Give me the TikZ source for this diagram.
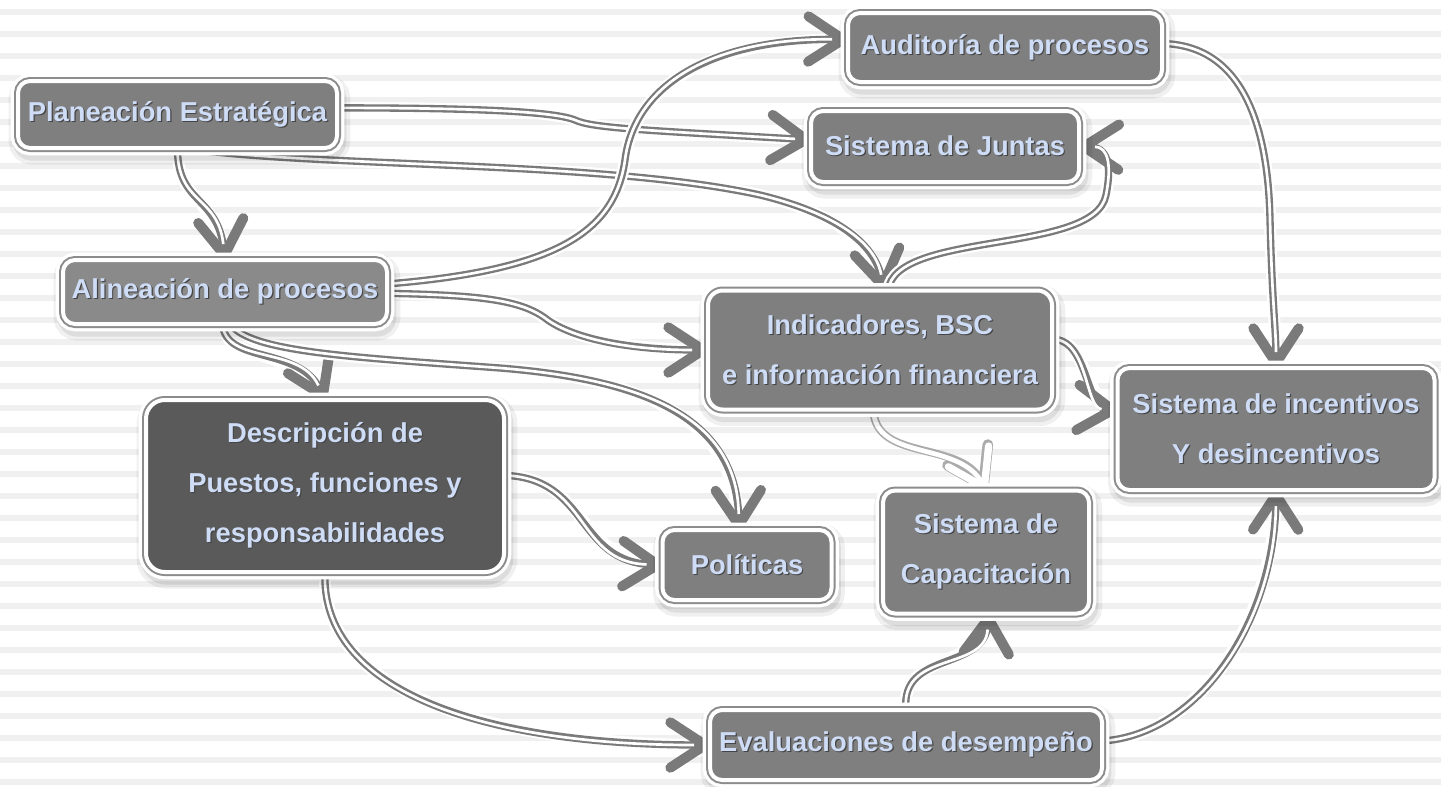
\documentclass[tikz,border=0pt]{standalone}
\usepackage{fontspec}
\setmainfont{Liberation Sans}
\usetikzlibrary{arrows.meta,calc}
\definecolor{boxg}{HTML}{7F7F7F}
\definecolor{boxl}{HTML}{8A8A8A}
\definecolor{boxd}{HTML}{5A5A5A}
\definecolor{ringg}{HTML}{8C8C8C}
\definecolor{txt}{HTML}{CEDCF6}
\definecolor{tsh}{HTML}{454545}
\definecolor{lineg}{HTML}{7A7A7A}
\definecolor{linel}{HTML}{ABABAB}
\definecolor{stripe}{HTML}{F0F0F0}
\newcommand\shtx[1]{\leavevmode\rlap{\kern0.9pt\raisebox{-0.9pt}{\textcolor{tsh}{#1}}}#1}
\pgfdeclarelayer{bg}
\pgfdeclarelayer{edges}
\pgfsetlayers{bg,edges,main}
\tikzset{
  box/.style={rounded corners=9pt, inner sep=0pt, outer sep=0pt, align=center, text=txt,
    font=\fontsize{20.5}{37.5}\selectfont\bfseries,
    preaction={draw=black, opacity=0.06, line width=17pt, transform canvas={xshift=1.5pt,yshift=-4pt}},
    preaction={draw=black, opacity=0.08, line width=11pt, transform canvas={xshift=1.5pt,yshift=-4pt}},
    preaction={draw=white, line width=11pt},
    preaction={draw=ringg, line width=6pt},
    draw=white, line width=3pt},
  tipg/.tip={Straight Barb[length=26pt,width=34pt,line width=7.5pt,round]},
  conn/.style={draw=lineg, line width=5.5pt, -tipg,
    preaction={draw=white, line width=9pt, -},
    postaction={draw=white, line width=2pt, -, shorten >=12pt}},
  connw/.style={draw=linel, line width=6pt, -{Straight Barb[length=26pt,width=34pt,line width=8pt,round]},
    postaction={draw=white, line width=3.5pt, -{Straight Barb[length=26pt,width=34pt,line width=5.5pt,round]}}},
}
\begin{document}
\begin{tikzpicture}[x=0.75pt,y=-0.75pt]
\useasboundingbox (0,0) rectangle (1441,786);
\begin{pgfonlayer}{bg}
  \fill[white] (0,0) rectangle (1441,786);
  \foreach \yy in {9,31,...,786} \fill[stripe] (0,\yy) rectangle (1441,\yy+6);
\end{pgfonlayer}

\node[box, fill=boxg, minimum width=239.25pt, minimum height=50.25pt] (plan) at (177.5,114.5) {\shtx{Planeación Estratégica}};
\node[box, fill=boxl, minimum width=243pt, minimum height=48pt] (alin) at (225,292) {\shtx{Alineación de procesos}};
\node[box, fill=boxd, rounded corners=14pt, minimum width=268.5pt, minimum height=129pt] (desc) at (325,486) {\shtx{Descripción de}\\\shtx{Puestos, funciones y}\\\shtx{responsabilidades}};
\node[box, fill=boxg, rounded corners=11pt, minimum width=258pt, minimum height=89.25pt] (ind) at (880,350) {\shtx{Indicadores, BSC}\\\shtx{e información financiera}};
\node[box, fill=boxg, minimum width=154.5pt, minimum height=92.25pt] (cap) at (986,552) {\shtx{Sistema de}\\\shtx{Capacitación}};
\node[box, fill=boxg, minimum width=294pt, minimum height=52.5pt] (eval) at (906,745) {\shtx{Evaluaciones de desempeño}};
\node[box, fill=boxg, minimum width=237.75pt, minimum height=91.5pt] (inc) at (1276,429) {\shtx{Sistema de incentivos}\\\shtx{Y desincentivos}};
\node[box, fill=boxg, minimum width=235.5pt, minimum height=51.75pt] (aud) at (1005,47.5) {\shtx{Auditoría de procesos}};
\node[box, fill=boxg, minimum width=201pt, minimum height=53.25pt] (jun) at (945,146.5) {\shtx{Sistema de Juntas}};
\node[box, fill=boxg, minimum width=126.75pt, minimum height=52.5pt] (pol) at (747,565) {\shtx{Políticas}};

\begin{pgfonlayer}{edges}
\draw[conn] ([yshift=5pt]plan.east) .. controls (450,108) and (550,110) .. (575,120) .. controls (592,128) and (640,130) .. ([yshift=5pt]jun.west);
\draw[conn] ([xshift=4pt]plan.south) .. controls (320,168) and (600,160) .. (760,195) .. controls (830,212) and (875,240) .. ([xshift=3pt]ind.north);
\draw[conn] (plan.south) .. controls (177,205) and (218,195) .. (alin.north);
\draw[conn] ([xshift=6pt]ind.north) .. controls (895,230) and (1095,255) .. (1106,195) .. controls (1112,165) and (1108,147) .. (jun.east);
\draw[conn] ([yshift=6pt]alin.east) .. controls (560,270) and (615,230) .. (625,160) .. controls (635,80) and (720,38) .. ([yshift=6pt]aud.west);
\draw[conn] ([yshift=-1pt]alin.east) .. controls (480,295) and (520,300) .. (545,318) .. controls (568,336) and (620,350) .. (ind.west);
\draw[conn] ([xshift=-2pt]alin.south) .. controls (226,365) and (300,345) .. (desc.north);
\draw[conn] ([xshift=4pt]alin.south) .. controls (250,352) and (350,357) .. (500,368) .. controls (650,380) and (737,420) .. ([xshift=-6pt]pol.north);
\draw[conn] ([yshift=8pt]desc.east) .. controls (590,478) and (575,562) .. (pol.west);
\draw[conn] (desc.south) .. controls (320,690) and (480,745) .. (eval.west);
\draw[connw] ([xshift=-5pt]ind.south) .. controls (875,462) and (960,440) .. (cap.north);
\draw[conn] (eval.north) .. controls (900,650) and (985,672) .. ([xshift=2pt]cap.south);
\draw[conn] ([yshift=3pt]eval.east) .. controls (1200,735) and (1275,620) .. (inc.south);
\draw[conn] ([yshift=8pt]ind.east) .. controls (1088,338) and (1085,408) .. ([yshift=14pt]inc.west);
\draw[conn] ([yshift=3pt]aud.east) .. controls (1240,45) and (1268,120) .. (1270,220) .. controls (1272,300) and (1276,330) .. (inc.north);
\end{pgfonlayer}
\end{tikzpicture}
\end{document}
